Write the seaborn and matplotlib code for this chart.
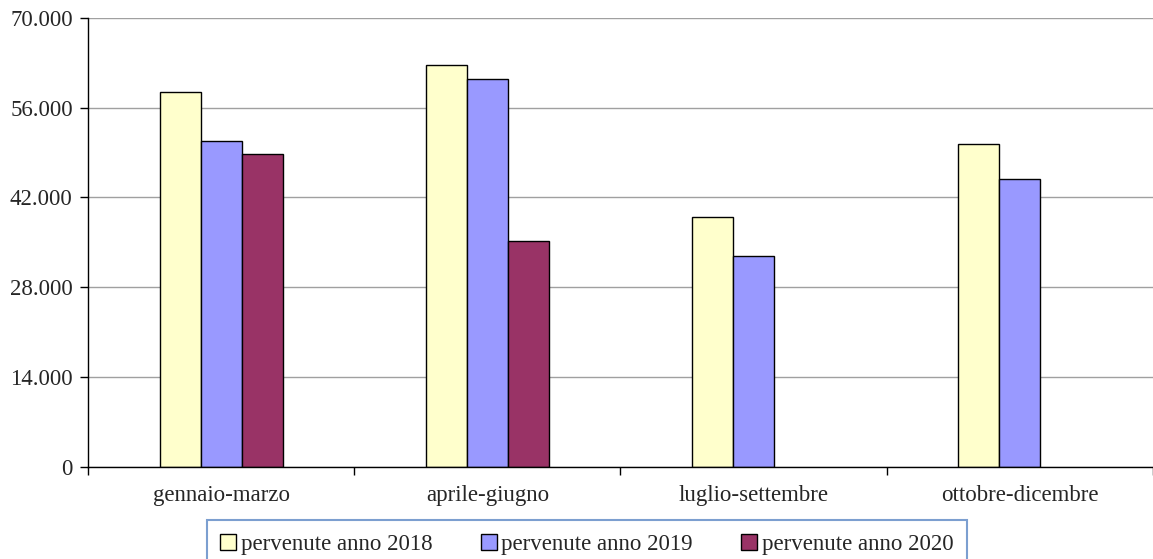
import seaborn as sns
import matplotlib.pyplot as plt
import pandas as pd
from matplotlib.ticker import FuncFormatter, FixedLocator

periodi = ["gennaio-marzo", "aprile-giugno", "luglio-settembre", "ottobre-dicembre"]
anno_2018 = [58370, 62630, 38880, 50310]
anno_2019 = [50830, 60400, 32900, 44860]
anno_2020 = [48750, 35230, None, None]
serie = ["pervenute anno 2018", "pervenute anno 2019", "pervenute anno 2020"]
colori = ["#FFFFCC", "#9999FF", "#993366"]
y_ticks = [0, 14000, 28000, 42000, 56000, 70000]

rows = []
for nome, valori in zip(serie, [anno_2018, anno_2019, anno_2020]):
    for p, v in zip(periodi, valori):
        if v is not None:
            rows.append({"periodo": p, "serie": nome, "valore": v})
df = pd.DataFrame(rows)

sns.set_style("white")
plt.rcParams["font.family"] = ["Liberation Serif", "DejaVu Serif"]

fig = plt.figure(figsize=(11.53, 5.59), dpi=100)
ax = fig.add_axes([0.0763, 0.165, 0.9237, 0.803])

sns.barplot(data=df, x="periodo", y="valore", hue="serie", order=periodi,
            hue_order=serie, palette=colori, saturation=1, width=0.462, gap=0,
            edgecolor="black", linewidth=1, ax=ax, legend=True)

ax.set_xlim(-0.5, 3.5)
ax.set_ylim(0, 70000)
ax.set_yticks(y_ticks)
ax.yaxis.set_major_formatter(FuncFormatter(lambda v, _: f"{int(v):,}".replace(",", ".")))
ax.yaxis.grid(True, color="#a0a0a0", linewidth=1)
ax.set_axisbelow(True)
ax.set_xlabel("")
ax.set_ylabel("")

for s in ["top", "right"]:
    ax.spines[s].set_visible(False)
for s in ["left", "bottom"]:
    ax.spines[s].set_color("black")
    ax.spines[s].set_linewidth(1)

ax.tick_params(axis="y", left=True, length=6, width=1, color="black",
               labelsize=16.5, pad=5)
ax.tick_params(axis="x", which="major", length=0, labelsize=16.5, pad=13)
ax.xaxis.set_minor_locator(FixedLocator([-0.5, 0.5, 1.5, 2.5, 3.5]))
ax.tick_params(axis="x", which="minor", bottom=True, length=6, width=1, color="black")

handles, labels = ax.get_legend_handles_labels()
ax.get_legend().remove()
leg = fig.legend(handles, labels, loc="upper center", ncol=3,
                 bbox_to_anchor=(0.509, 0.07), borderaxespad=0,
                 fontsize=16.5, frameon=True,
                 fancybox=False, edgecolor="#5B87C5", handlelength=0.7,
                 handleheight=0.7, handletextpad=0.2, columnspacing=2.1,
                 borderpad=0.6)
leg.get_frame().set_linewidth(1.5)

plt.savefig("out.png", dpi=100)
